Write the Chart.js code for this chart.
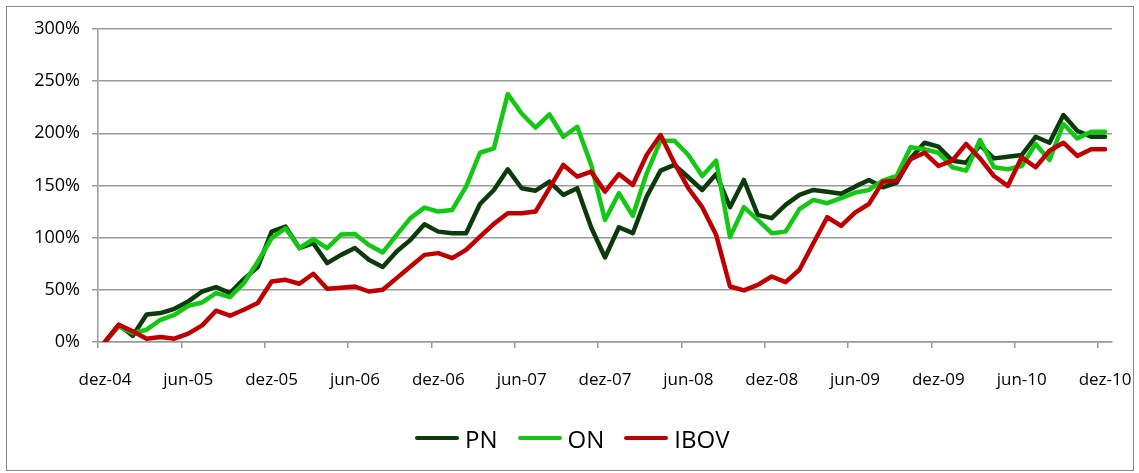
<!DOCTYPE html>
<html>
<head>
<meta charset="utf-8">
<script src="https://cdn.jsdelivr.net/npm/chart.js@4/dist/chart.umd.min.js"></script>
<style>
  html, body { margin: 0; padding: 0; background: #fff; }
  #wrap { position: relative; width: 1139px; height: 473px; overflow: hidden; background: #fff; }
  #frame { position: absolute; left: 6px; top: 6px; width: 1126px; height: 463px; border: 1px solid #8c8c8c; }
  canvas { position: absolute; left: 0; top: 0; }
  #legend { position: absolute; left: 415px; top: 420px; height: 36px; display: flex; align-items: center;
            font-family: "Open Sans", sans-serif; font-size: 24px; color: #000; }
  .item { display: flex; align-items: center; margin-right: 20px; }
  .swatch { width: 44px; height: 4px; border-radius: 2px; margin-right: 6px; }
</style>
</head>
<body>
<div id="wrap">
  <div id="frame"></div>
  <canvas id="c" width="1139" height="473"></canvas>
  <div id="legend"></div>
</div>
<script>
const categories = [
  "dez-04",
  "jan-05","fev-05","mar-05","abr-05","mai-05","jun-05","jul-05","ago-05","set-05","out-05","nov-05","dez-05",
  "jan-06","fev-06","mar-06","abr-06","mai-06","jun-06","jul-06","ago-06","set-06","out-06","nov-06","dez-06",
  "jan-07","fev-07","mar-07","abr-07","mai-07","jun-07","jul-07","ago-07","set-07","out-07","nov-07","dez-07",
  "jan-08","fev-08","mar-08","abr-08","mai-08","jun-08","jul-08","ago-08","set-08","out-08","nov-08","dez-08",
  "jan-09","fev-09","mar-09","abr-09","mai-09","jun-09","jul-09","ago-09","set-09","out-09","nov-09","dez-09",
  "jan-10","fev-10","mar-10","abr-10","mai-10","jun-10","jul-10","ago-10","set-10","out-10","nov-10","dez-10"
];

const PN = [
  0, 16.5, 6, 26.4, 27.7, 31.8, 38.9, 48.4, 52.6, 46.9, 60.3, 71.8, 105.8,
  110.6, 90, 94.7, 75.6, 83.5, 90, 78.8, 71.8, 86.7, 97.9, 112.9, 105.8,
  104.3, 104.3, 132.3, 145.7, 165.5, 147.4, 145, 153.7, 141, 147.4, 110, 81,
  110, 104.3, 139.3, 164.2, 169.7, 157.9, 145.7, 161, 129.2, 155.3, 121.8, 118.7,
  131.4, 141, 145.7, 144.1, 142, 148.9, 155.3, 148.3, 152.7, 176, 191, 187.2,
  173.8, 171.9, 188.8, 176, 177.6, 179.2, 196.7, 191, 217.5, 202.5, 196.7, 196.7
];

const ON = [
  0, 15, 8.6, 11.8, 21.3, 26, 34.7, 37.9, 46.9, 43, 56.4, 77, 99.5,
  109, 90, 98.5, 90, 103, 103.6, 93, 85.8, 102.7, 118.7, 128.8, 125,
  126.6, 148.9, 181.4, 185.6, 237.6, 219, 205.4, 218.2, 196.7, 206.3, 170, 117,
  142.6, 121, 161.7, 192.9, 192.9, 179.2, 159.1, 173.8, 100.5, 129.2, 117, 104.3,
  105.8, 127.3, 136.2, 133, 137.8, 143.2, 145.7, 154.6, 159.1, 186.6, 184.7, 181.4,
  167.5, 164.2, 193.6, 167.5, 165.6, 168.7, 189.8, 174.4, 208.9, 195.2, 201.5, 201.5
];

const IBOV = [
  0, 16.5, 10.2, 3.2, 4.8, 3.2, 8, 15.9, 30, 25.2, 30.9, 37.3, 58,
  59.6, 55.8, 65.4, 51, 52, 53.2, 48.4, 50, 61.2, 72.3, 83.5, 85.2,
  80.4, 88.3, 101, 113.2, 123.4, 123.4, 125, 147.4, 169.7, 158.5, 163.3, 144.1,
  161, 150.5, 179.2, 198.4, 171.3, 147.4, 129.2, 102.7, 53.2, 49.4, 54.8, 62.8,
  57.4, 69.2, 94.7, 119.6, 111.3, 124, 132.3, 153.7, 154.6, 175.1, 181.4, 168.7,
  173.8, 189.8, 176, 159.1, 149.6, 177, 167.5, 183.3, 191, 178.3, 184.7, 184.7
];

const yTicks = [0, 50, 100, 150, 200, 250, 300];
const seriesNames = ["PN", "ON", "IBOV"];
const seriesColors = ["#0b3a0b", "#12c812", "#c00000"];

const gridColor = "#9a9a9a";
const font = "'Open Sans', sans-serif";

const datasets = [PN, ON, IBOV].map((d, i) => ({
  label: seriesNames[i],
  data: d,
  borderColor: seriesColors[i],
  backgroundColor: seriesColors[i],
  borderWidth: 4.5,
  pointRadius: 0,
  tension: 0,
  fill: false,
  borderJoinStyle: "round",
  borderCapStyle: "round",
  order: 3 - i
}));

new Chart(document.getElementById("c"), {
  type: "line",
  data: { labels: categories, datasets },
  options: {
    responsive: false,
    animation: false,
    events: [],
    layout: { padding: { left: 0, right: 27, top: 29, bottom: 0 } },
    plugins: { legend: { display: false }, tooltip: { enabled: false } },
    scales: {
      x: {
        type: "category",
        offset: true,
        afterFit: s => { s.height = 131; s.paddingLeft = 0; s.paddingRight = 0; },
        border: { display: true, color: gridColor, width: 1.5 },
        grid: {
          offset: true,
          drawOnChartArea: false,
          drawTicks: true,
          tickLength: 6,
          lineWidth: 1.5,
          color: ctx => (ctx.index % 6 === 0 ? gridColor : "rgba(0,0,0,0)")
        },
        ticks: {
          autoSkip: false,
          maxRotation: 0,
          minRotation: 0,
          padding: 22,
          color: "#000",
          font: { family: font, size: 17 },
          callback: (v, i) => (i % 6 === 0 ? categories[i] : "")
        }
      },
      y: {
        min: yTicks[0],
        max: yTicks[yTicks.length - 1],
        afterFit: s => { s.width = 98; s.paddingTop = 0; s.paddingBottom = 0; },
        afterBuildTicks: s => { s.ticks = yTicks.map(v => ({ value: v })); },
        border: { display: true, color: gridColor, width: 1.5 },
        grid: { color: gridColor, lineWidth: 1.5, drawTicks: true, tickLength: 6 },
        ticks: {
          padding: 12,
          color: "#000",
          font: { family: font, size: 18 },
          callback: v => v + "%"
        }
      }
    }
  }
});

const legend = document.getElementById("legend");
seriesNames.forEach((n, i) => {
  const it = document.createElement("div");
  it.className = "item";
  const sw = document.createElement("span");
  sw.className = "swatch";
  sw.style.background = seriesColors[i];
  const tx = document.createElement("span");
  tx.textContent = n;
  it.appendChild(sw);
  it.appendChild(tx);
  legend.appendChild(it);
});
</script>
</body>
</html>
